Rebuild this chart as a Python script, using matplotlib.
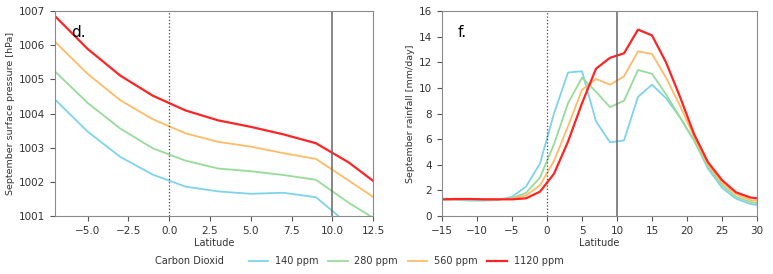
import numpy as np
import matplotlib
matplotlib.use("Agg")
import matplotlib.pyplot as plt

# ------------------------------------------------------
# Data
# ------------------------------------------------------
co2_labels = ["140 ppm", "280 ppm", "560 ppm", "1120 ppm"]
co2_colors = ["#7ed3ec", "#97db99", "#ffbb66", "#ff2424"]

# panel d: surface pressure vs latitude
lat_p = [-7, -5, -3, -1, 1, 3, 5, 7, 9, 11, 13]
pres_140 = [1004.41, 1003.47, 1002.73, 1002.21, 1001.86, 1001.72, 1001.65, 1001.68, 1001.55, 1000.75, 1000.2]
pres_280 = [1005.23, 1004.31, 1003.56, 1002.98, 1002.62, 1002.39, 1002.31, 1002.20, 1002.06, 1001.39, 1000.80]
pres_560 = [1006.10, 1005.16, 1004.39, 1003.83, 1003.42, 1003.17, 1003.03, 1002.84, 1002.67, 1002.04, 1001.40]
pres_1120 = [1006.85, 1005.89, 1005.11, 1004.52, 1004.09, 1003.80, 1003.61, 1003.39, 1003.13, 1002.57, 1001.85]

# panel f: rainfall vs latitude
lat_r = [-15, -13, -11, -9, -7, -5, -3, -1, 1, 3, 5, 7, 9, 11, 13, 15, 17, 19, 21, 23, 25, 27, 29, 31]
rain_140 = [1.3, 1.25, 1.2, 1.2, 1.25, 1.5, 2.3, 4.1, 8.0, 11.2, 11.3, 7.4, 5.75, 5.9, 9.3, 10.25,
            9.2, 7.7, 5.9, 3.7, 2.2, 1.35, 0.95, 0.75]
rain_280 = [1.3, 1.3, 1.3, 1.3, 1.3, 1.4, 1.8, 3.0, 5.6, 8.8, 10.8, 9.7, 8.5, 9.0, 11.4, 11.1,
            9.5, 7.7, 5.9, 3.9, 2.4, 1.5, 1.1, 0.9]
rain_560 = [1.3, 1.3, 1.3, 1.3, 1.3, 1.35, 1.6, 2.4, 4.3, 7.0, 9.85, 10.7, 10.25, 10.9, 12.85, 12.65,
            10.8, 8.6, 6.2, 4.0, 2.6, 1.7, 1.25, 1.1]
rain_1120 = [1.3, 1.33, 1.33, 1.3, 1.3, 1.3, 1.38, 1.9, 3.3, 5.8, 8.8, 11.5, 12.35, 12.7, 14.55, 14.1,
             12.0, 9.3, 6.4, 4.2, 2.8, 1.85, 1.45, 1.3]

pres_series = [pres_140, pres_280, pres_560, pres_1120]
rain_series = [rain_140, rain_280, rain_560, rain_1120]

# ------------------------------------------------------
# Plot style
# ------------------------------------------------------
plt.rcParams.update({
    "font.family": "DejaVu Sans",
    "font.size": 7.5,
    "axes.edgecolor": "#8a8a8a",
    "axes.labelcolor": "#333333",
    "xtick.color": "#555555",
    "ytick.color": "#555555",
    "xtick.labelcolor": "#333333",
    "ytick.labelcolor": "#333333",
    "xtick.labelsize": 7.5,
    "ytick.labelsize": 7.5,
})

fig = plt.figure(figsize=(7.73, 2.74), dpi=100)
ax1 = fig.add_axes([0.0712, 0.2117, 0.4114, 0.748])
ax2 = fig.add_axes([0.5718, 0.2117, 0.4075, 0.748])

lines = []
for vals, col, lab in zip(pres_series, co2_colors, co2_labels):
    lw = 1.6 if lab == "1120 ppm" else 1.3
    ln, = ax1.plot(lat_p, vals, color=col, lw=lw, label=lab)
    lines.append(ln)
ax1.axvline(0, color="#444444", lw=0.9, ls=":")
ax1.axvline(10, color="#666666", lw=1.1)
ax1.set_xlim(-7, 12.5)
ax1.set_ylim(1001, 1007)
ax1.set_xticks([-5.0, -2.5, 0.0, 2.5, 5.0, 7.5, 10.0, 12.5])
ax1.set_xlabel("Latitude", fontsize=7, labelpad=2)
ax1.set_ylabel("September surface pressure [hPa]", fontsize=6.8, labelpad=3)
ax1.text(0.05, 0.93, "d.", transform=ax1.transAxes, fontsize=11, va="top")

for vals, col, lab in zip(rain_series, co2_colors, co2_labels):
    lw = 1.6 if lab == "1120 ppm" else 1.3
    ax2.plot(lat_r, vals, color=col, lw=lw, label=lab)
ax2.axvline(0, color="#444444", lw=0.9, ls=":")
ax2.axvline(10, color="#666666", lw=1.1)
ax2.set_xlim(-15, 30)
ax2.set_ylim(0, 16)
ax2.set_xticks(np.arange(-15, 31, 5))
ax2.set_yticks(np.arange(0, 17, 2))
ax2.set_xlabel("Latitude", fontsize=7, labelpad=2)
ax2.set_ylabel("September rainfall [mm/day]", fontsize=6.8, labelpad=3)
ax2.text(0.05, 0.93, "f.", transform=ax2.transAxes, fontsize=11, va="top")

fig.text(155 / 773, 0.047, "Carbon Dioxid", fontsize=7, color="#333333", va="center")
fig.legend(handles=lines, labels=co2_labels, loc="center left",
           bbox_to_anchor=(240 / 773, 0.047), ncol=4, frameon=False,
           fontsize=7, handlelength=2.0, handletextpad=0.7, columnspacing=1.0,
           labelcolor="#333333")

fig.savefig("out.png", dpi=100)
